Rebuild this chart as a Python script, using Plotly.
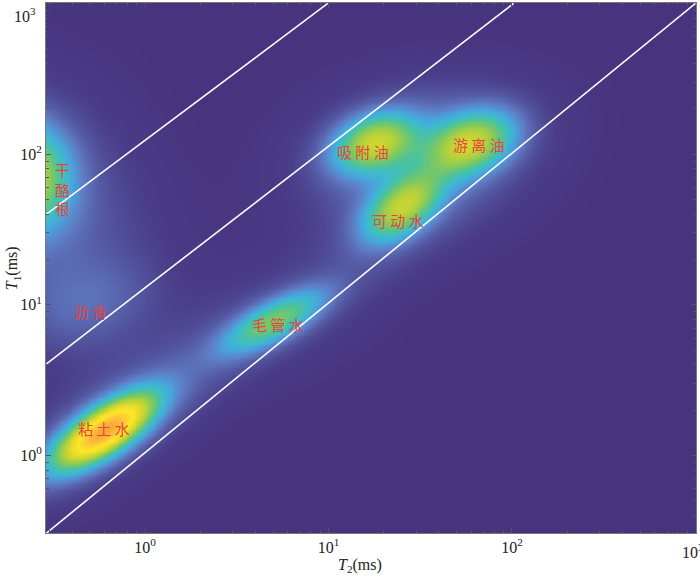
import numpy as np
import plotly.graph_objects as go

# ---- peak parameters (T2 ms, T1 ms, relative amplitude, widths in decades, correlation)
peak_names = ["粘土水", "毛管水", "可动水", "吸附油", "游离油", "干酪根", "沥青"]
peak_t2 = [0.6, 5.0, 25.0, 17.6, 60.0, 0.2, 0.5]
peak_t1 = [1.46, 7.8, 44.0, 120.0, 120.0, 72.0, 9.8]
peak_amp = [1.0, 0.47, 0.55, 0.57, 0.57, 0.72, 0.10]
peak_sx = [0.20, 0.2, 0.15, 0.16, 0.17, 0.19, 0.25]
peak_sy = [0.18, 0.15, 0.16, 0.14, 0.15, 0.25, 0.2]
peak_rho = [0.72, 0.72, 0.5, 0.3, 0.3, 0.0, 0.3]

# broad faint halo components
halo_t2 = [30.0, 0.4, 5.0]
halo_t1 = [80.0, 20.0, 8.0]
halo_amp = [0.08, 0.1, 0.04]
halo_sx = [0.45, 0.35, 0.4]
halo_sy = [0.4, 0.5, 0.35]

# reference lines (T2, T1 end points)
line_t2 = [[0.29, 9.9], [0.29, 102.0], [0.29, 1000.0]]
line_t1 = [[40.0, 1000.0], [4.05, 1000.0], [0.305, 1000.0]]

# label positions
label_text = ["粘 土 水", "毛 管 水", "可 动 水", "吸 附 油", "游 离 油", "干<br>酪<br>根", "沥 青"]
label_t2 = [0.597, 5.33, 23.8, 15.5, 66.0, 0.356, 0.507]
label_t1 = [1.51, 7.43, 36.1, 104.0, 116.0, 58.9, 9.06]

xr = [-0.54, 3.0]
yr = [-0.515, 3.0]

gx = np.linspace(xr[0], xr[1], 360)
gy = np.linspace(yr[0], yr[1], 300)
X, Y = np.meshgrid(gx, gy)
Z = np.zeros_like(X)
for t2, t1, a, sx, sy, r in zip(peak_t2, peak_t1, peak_amp, peak_sx, peak_sy, peak_rho):
    dx = (X - np.log10(t2)) / sx
    dy = (Y - np.log10(t1)) / sy
    q = (dx * dx - 2 * r * dx * dy + dy * dy) / (1 - r * r)
    Z += a * np.exp(-(q / 2) ** 1.1)
    Z += a * 0.2 * np.exp(-q / (2 * 2.1 ** 2))
for t2, t1, a, sx, sy in zip(halo_t2, halo_t1, halo_amp, halo_sx, halo_sy):
    dx = (X - np.log10(t2)) / sx
    dy = (Y - np.log10(t1)) / sy
    Z += a * np.exp(-(dx * dx + dy * dy) / 2)
Z = np.clip(Z / Z.max(), 0, 1)

cscale = [
    [0.00, "#47337e"],
    [0.06, "#4a3c88"],
    [0.13, "#5458a2"],
    [0.21, "#5e7cc4"],
    [0.29, "#4aa2dc"],
    [0.36, "#3cbad0"],
    [0.44, "#4cc39a"],
    [0.52, "#7cc862"],
    [0.61, "#b3d13c"],
    [0.71, "#e4d92a"],
    [0.82, "#fde725"],
    [0.92, "#fcc53a"],
    [1.00, "#f8a535"],
]

fig = go.Figure()
fig.add_trace(go.Heatmap(x=10 ** gx, y=10 ** gy, z=Z, colorscale=cscale, zmin=0, zmax=1,
                         zsmooth="best", showscale=False, hoverinfo="skip"))
for lx, ly in zip(line_t2, line_t1):
    fig.add_trace(go.Scatter(x=lx, y=ly, mode="lines", line=dict(color="white", width=1.6),
                             showlegend=False, hoverinfo="skip"))

for t, x, y in zip(label_text, label_t2, label_t1):
    fig.add_annotation(x=np.log10(x), y=np.log10(y), text=t, showarrow=False,
                       font=dict(family="Noto Sans CJK SC", size=15, color="#e5453b"))

fig.add_annotation(xref="paper", yref="paper", x=0.483, y=-0.062, yanchor="middle",
                   text="<i>T</i><sub>2</sub>(ms)", showarrow=False,
                   font=dict(family="Liberation Serif", size=16, color="#222"))
fig.add_annotation(xref="paper", yref="paper", x=-0.052, y=0.5, xanchor="center", yanchor="middle",
                   textangle=-90, text="<i>T</i><sub>1</sub>(ms)", showarrow=False,
                   font=dict(family="Liberation Serif", size=16, color="#222"))
# edge tick labels kept inside the page, as in the reference
fig.add_annotation(xref="paper", yref="paper", x=-0.012, y=1.0, xanchor="right", yanchor="top",
                   text="10<sup>3</sup>", showarrow=False,
                   font=dict(family="Liberation Serif", size=16, color="#222"))
fig.add_annotation(xref="paper", yref="paper", x=0.996, y=-0.012, xanchor="center", yanchor="top",
                   text="10<sup>3</sup>", showarrow=False,
                   font=dict(family="Liberation Serif", size=16, color="#222"))

dec = [1, 10, 100, 1000]
minor_vals = [m * 10.0 ** e for e in range(-1, 3) for m in range(2, 10)]
tick_txt_x = ["10<sup>0</sup>", "10<sup>1</sup>", "10<sup>2</sup>", ""]
tick_txt_y = ["10<sup>0</sup>", "10<sup>1</sup>", "10<sup>2</sup>", ""]

axis_common = dict(type="log", showgrid=False, zeroline=False, ticks="inside", ticklen=5,
                   tickcolor="#555", linecolor="#777", linewidth=1, mirror="allticks", showline=True,
                   automargin=False,
                   tickfont=dict(family="Liberation Serif", size=16, color="#222"),
                   minor=dict(ticks="inside", ticklen=3, tickcolor="#555", tickvals=minor_vals))

fig.update_xaxes(range=[xr[0], 3.003], tickvals=dec, ticktext=tick_txt_x, **axis_common)
fig.update_yaxes(range=[yr[0], 3.003], tickvals=dec, ticktext=tick_txt_y, **axis_common)

fig.update_layout(width=700, height=579, margin=dict(l=46, r=4, t=3, b=46),
                  paper_bgcolor="white", plot_bgcolor="#47337e", showlegend=False)
fig.write_html("out.html", config={"displayModeBar": False},
               post_script="document.body.style.margin='0px';")
